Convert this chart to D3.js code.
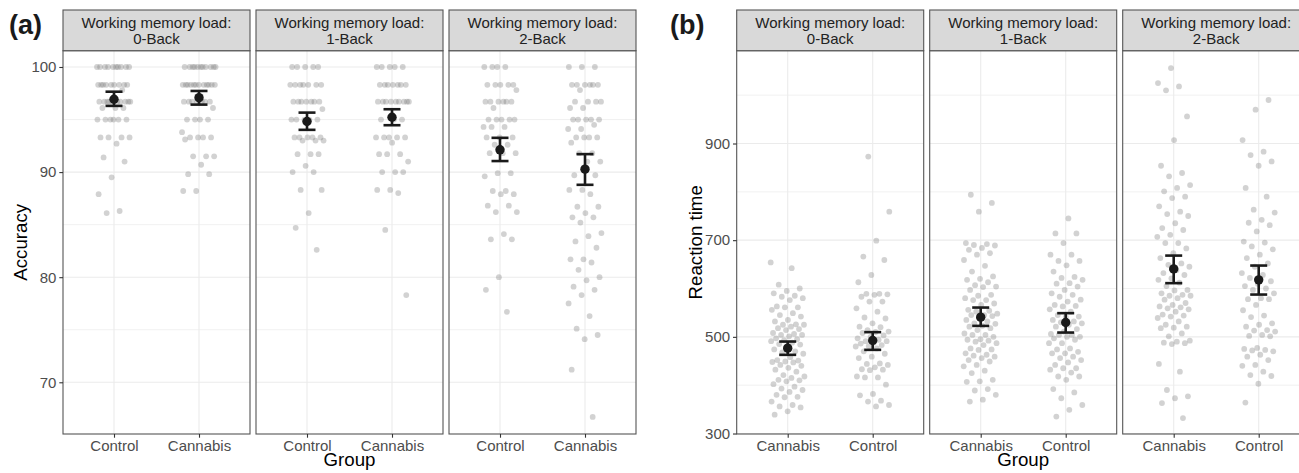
<!DOCTYPE html>
<html><head><meta charset="utf-8">
<script src="https://cdn.jsdelivr.net/npm/d3@7"></script>
<style>body{margin:0;background:#fff} svg text{font-family:"Liberation Sans",Arial,sans-serif}</style>
</head><body><svg id="c" width="1299" height="473"></svg>
<script>
// ---------- data ----------
const loads = ["0-Back", "1-Back", "2-Back"];
const stripPrefix = "Working memory load:";
const accGroups = ["Control", "Cannabis"];
const rtGroups = ["Cannabis", "Control"];
const accTicks = [70, 80, 90, 100];
const accMinor = [75, 85, 95];
const rtTicks = [300, 500, 700, 900];
const rtMinor = [400, 600, 800, 1000];

// Accuracy (%) individual participants
const acc0Control = [100,100,100,100,100,100,100,100,100,100, 98.3,98.3,98.3,98.3,98.3,98.3,98.3,98.3,98.3, 97.8,
  96.7,96.7,96.7,96.7,96.7,96.7,96.7,96.7,96.7,96.7, 96.1,96.1,96.1, 95,95,95,95,95,95, 93.3,93.3,93.3,93.3,
  92.7, 91.4, 91.0, 89.5, 87.9, 86.3, 86.1];
const acc0Cannabis = [100,100,100,100,100,100,100,100,100,100,100, 98.3,98.3,98.3,98.3,98.3,98.3,98.3,98.3,98.3,98.3,98.3,98.3,
  96.7,96.7,96.7,96.7,96.7,96.7,96.7, 96.1, 95,95,95,95, 93.8, 93.3,93.3,93.3,93.3, 93.1,
  91.5,91.5,91.5, 90.7, 89.8,89.8, 88.2,88.2];
const acc1Control = [100,100,100,100,100, 98.3,98.3,98.3,98.3,98.3,98.3,98.3, 96.7,96.7,96.7,96.7,96.7,96.7,96.7, 96.0,
  95,95,95,95,95, 93.3,93.3,93.3,93.3,93.3, 93.0,93.0,93.0, 91.7,91.7,91.7, 90.6, 90,90, 88.3,88.3, 86.1, 84.7, 82.6];
const acc1Cannabis = [100,100,100,100,100, 98.3,98.3,98.3,98.3,98.3,98.3,98.3, 96.7,96.7,96.7,96.7,96.7,96.7,96.7,96.7,96.7,
  95,95,95, 93.3,93.3,93.3,93.3,93.3, 92.8, 91.7,91.7,91.7, 91.0, 90,90,90, 88.3,88.3, 88.0, 84.5, 78.3];
const acc2Control = [100,100,100,100, 98.3,98.3,98.3,98.3,98.3, 97.8, 96.7,96.7,96.7,96.7,96.7,96.7, 96.1,
  95,95,95,95,95, 94.3,94.3,94.3, 93.3,93.3,93.3, 92.6,92.6, 91.8,91.8,91.8, 89.9,89.9, 89.6, 88.2,88.2, 87.9,87.9,
  86.8,86.8, 86.2,86.2, 84.1, 83.6,83.6, 80.0, 78.8, 76.7];
const acc2Cannabis = [100,100,100, 98.3,98.3,98.3,98.3,98.3,98.3, 97.8, 96.7,96.7,96.7,96.7, 96.1,96.1,
  95,95,95,95,95, 94.5, 94.1,94.1, 93.3,93.3,93.3,93.3, 92.8, 91.8,91.8, 91.0,91.0, 89.7,89.7, 88.3,88.3, 87.9,
  86.7,86.7, 86.1, 85.7,85.7, 85.2, 84.2, 83.9, 83.4, 82.8, 81.7,81.7, 81.4, 80.7, 80.0, 79.7, 79.1, 78.8, 78.3,
  77.5, 76.3, 75.1, 74.5, 74.1, 71.2, 66.7];

// Reaction time (ms) individual participants
const rt0Cannabis = [654,642,608,600,595,590,585,583,580,576,563,561,561,556,549,545,542,535,532,526,525,525,521,518,516,514,
  508,506,504,504,501,497,495,493,491,488,485,484,478,474,470,468,465,458,452,451,449,448,447,442,440,436,432,428,421,418,
  415,411,410,408,402,397,393,390,386,380,376,375,366,359,356,354,346,339];
const rt0Control = [873,759,699,666,659,628,613,589,589,588,587,583,573,573,559,552,540,538,528,521,520,514,511,510,508,503,
  500,497,494,491,491,488,486,483,481,480,476,470,465,459,456,445,444,442,437,433,432,431,418,416,416,401,382,379,368,366,359,356];
const rt1Cannabis = [794,777,759,694,692,690,689,684,680,673,670,659,647,635,625,620,618,613,607,604,603,597,587,585,580,576,
  576,569,566,556,554,552,548,545,545,543,538,535,532,528,527,523,521,518,514,507,504,504,500,495,494,492,490,487,483,476,
  474,473,466,463,461,459,456,452,449,442,439,430,425,411,408,407,392,389,380,370,366];
const rt1Control = [745,714,714,694,670,670,657,657,648,635,624,622,618,611,610,604,597,590,587,583,577,573,566,564,563,557,
  552,545,542,541,535,532,530,528,525,521,516,511,506,504,504,500,500,497,494,487,487,476,474,469,466,466,459,456,452,447,
  442,435,435,432,426,418,418,411,392,385,373,359,349,335];
const rt2Cannabis = [1056,1025,1018,1010,956,907,854,839,832,814,808,801,790,787,770,759,754,750,735,725,721,711,707,694,694,
  683,673,663,652,649,645,638,632,628,621,618,612,605,597,596,590,587,585,585,580,577,570,566,563,561,559,557,552,546,544,
  542,539,532,525,521,519,518,507,501,492,490,488,487,485,444,428,390,377,373,363,332];
const rt2Control = [990,970,907,883,876,863,854,808,790,763,757,742,736,731,718,697,695,687,681,670,663,652,645,632,628,622,
  615,610,605,600,597,590,580,578,578,566,555,544,541,528,525,521,514,513,511,504,502,501,477,475,473,472,470,463,459,452,
  442,440,428,421,419,403,364];

// group means with error-bar limits, per load
const accMeanControl = [96.93, 94.81, 92.12];
const accLoControl = [96.30, 94.02, 91.05];
const accHiControl = [97.65, 95.66, 93.26];
const accMeanCannabis = [97.08, 95.22, 90.28];
const accLoCannabis = [96.42, 94.46, 88.79];
const accHiCannabis = [97.72, 95.98, 91.71];
const rtMeanCannabis = [476.6, 540.7, 640.6];
const rtLoCannabis = [462.8, 522.7, 611.1];
const rtHiCannabis = [490.3, 560.6, 668.1];
const rtMeanControl = [492.4, 529.6, 617.9];
const rtLoControl = [473.1, 508.9, 587.5];
const rtHiControl = [509.7, 549.0, 647.5];

// ---------- assemble ----------
const accPoints = [
  {Control: acc0Control, Cannabis: acc0Cannabis},
  {Control: acc1Control, Cannabis: acc1Cannabis},
  {Control: acc2Control, Cannabis: acc2Cannabis}];
const rtPoints = [
  {Cannabis: rt0Cannabis, Control: rt0Control},
  {Cannabis: rt1Cannabis, Control: rt1Control},
  {Cannabis: rt2Cannabis, Control: rt2Control}];
const accStats = {
  Control: {mean: accMeanControl, lo: accLoControl, hi: accHiControl},
  Cannabis: {mean: accMeanCannabis, lo: accLoCannabis, hi: accHiCannabis}};
const rtStats = {
  Cannabis: {mean: rtMeanCannabis, lo: rtLoCannabis, hi: rtHiCannabis},
  Control: {mean: rtMeanControl, lo: rtLoControl, hi: rtHiControl}};

// ---------- drawing ----------
const svg = d3.select("#c");
const TOP = 50.7, BOTTOM = 434, STRIP_TOP = 10;
const PW = 187, GAP = 6;
const AXIS_TXT = "#4d4d4d", BORDER = "#555", GRID = "#ebebeb";

function facetGroup(o) {
  const g = svg.append("g");
  const y = d3.scaleLinear().domain(o.domain).range([BOTTOM, TOP]);
  loads.forEach((load, k) => {
    const x0 = o.left + k * (PW + GAP);
    const x = d3.scalePoint().domain(o.groups).range([x0, x0 + PW]).padding(0.6);
    const step = x.step();
    const p = g.append("g");
    // grid
    p.selectAll("line.mn").data(o.minor).join("line")
      .attr("x1", x0).attr("x2", x0 + PW).attr("y1", d => y(d)).attr("y2", d => y(d))
      .attr("stroke", GRID).attr("stroke-width", 0.7);
    p.selectAll("line.mj").data(o.ticks).join("line")
      .attr("x1", x0).attr("x2", x0 + PW).attr("y1", d => y(d)).attr("y2", d => y(d))
      .attr("stroke", GRID).attr("stroke-width", 1.1);
    p.selectAll("line.vx").data(o.groups).join("line")
      .attr("x1", d => x(d)).attr("x2", d => x(d)).attr("y1", TOP).attr("y2", BOTTOM)
      .attr("stroke", GRID).attr("stroke-width", 1.1);
    // jittered points (deterministic low-discrepancy jitter, width 0.2)
    o.groups.forEach((grp, gi) => {
      const vals = o.points[k][grp];
      p.append("g").selectAll("circle").data(vals).join("circle")
        .attr("cx", (d, i) => x(grp) + (((i * 0.6180339887 + gi * 0.37 + k * 0.21) % 1) - 0.5) * 0.4 * step)
        .attr("cy", d => y(d)).attr("r", 2.9)
        .attr("fill", "#7a7a7a").attr("fill-opacity", 0.34);
    });
    // error bars + means
    o.groups.forEach(grp => {
      const s = o.stats[grp];
      const cx = x(grp), hw = 0.1 * step;
      const eb = p.append("g").attr("stroke", "#1a1a1a").attr("stroke-width", 2.6);
      eb.append("line").attr("x1", cx).attr("x2", cx).attr("y1", y(s.lo[k])).attr("y2", y(s.hi[k]));
      eb.append("line").attr("x1", cx - hw).attr("x2", cx + hw).attr("y1", y(s.lo[k])).attr("y2", y(s.lo[k]));
      eb.append("line").attr("x1", cx - hw).attr("x2", cx + hw).attr("y1", y(s.hi[k])).attr("y2", y(s.hi[k]));
      p.append("circle").attr("cx", cx).attr("cy", y(s.mean[k])).attr("r", 4.7).attr("fill", "#1a1a1a");
    });
    // border
    p.append("rect").attr("x", x0).attr("y", TOP).attr("width", PW).attr("height", BOTTOM - TOP)
      .attr("fill", "none").attr("stroke", BORDER).attr("stroke-width", 1.1);
    // strip
    p.append("rect").attr("x", x0).attr("y", STRIP_TOP).attr("width", PW).attr("height", TOP - STRIP_TOP)
      .attr("fill", "#d9d9d9").attr("stroke", BORDER).attr("stroke-width", 1.1);
    const st = p.append("text").attr("text-anchor", "middle").attr("font-size", 15).attr("fill", "#222");
    st.append("tspan").attr("x", x0 + PW / 2).attr("y", 28.3).text(stripPrefix);
    st.append("tspan").attr("x", x0 + PW / 2).attr("y", 44.3).text(load);
    // x axis
    const xa = p.append("g").attr("transform", `translate(0,${BOTTOM})`)
      .call(d3.axisBottom(x).tickSize(3.7).tickPadding(2.9));
    styleAxis(xa);
    if (k === 0) {
      const ya = p.append("g").attr("transform", `translate(${x0},0)`)
        .call(d3.axisLeft(y).tickValues(o.ticks).tickSize(3.7).tickPadding(2.9));
      styleAxis(ya);
    }
  });
  // titles
  const xc = o.left + (3 * PW + 2 * GAP) / 2;
  g.append("text").attr("x", xc).attr("y", 466).attr("text-anchor", "middle")
    .attr("font-size", 18.7).attr("fill", "#000").text("Group");
  g.append("text").attr("transform", `translate(${o.yTitleX},${(TOP + BOTTOM) / 2}) rotate(-90)`)
    .attr("text-anchor", "middle").attr("font-size", 18.7).attr("fill", "#000").text(o.yTitle);
  g.append("text").attr("x", o.tagX).attr("y", 34).attr("font-size", 27).attr("font-weight", "bold")
    .attr("fill", "#1a1a1a").text(o.tag);
}

function styleAxis(a) {
  a.select(".domain").remove();
  a.selectAll(".tick line").attr("stroke", "#333").attr("stroke-width", 1.1);
  a.selectAll(".tick text").attr("fill", AXIS_TXT).attr("font-size", 15)
    .attr("font-family", "'Liberation Sans',Arial,sans-serif");
}

facetGroup({left: 63, groups: accGroups, domain: [65.08, 101.55], ticks: accTicks, minor: accMinor,
  points: accPoints, stats: accStats, yTitle: "Accuracy", yTitleX: 26.5, tag: "(a)", tagX: 9});
facetGroup({left: 736.7, groups: rtGroups, domain: [299, 1092], ticks: rtTicks, minor: rtMinor,
  points: rtPoints, stats: rtStats, yTitle: "Reaction time", yTitleX: 702, tag: "(b)", tagX: 670});
</script></body></html>
